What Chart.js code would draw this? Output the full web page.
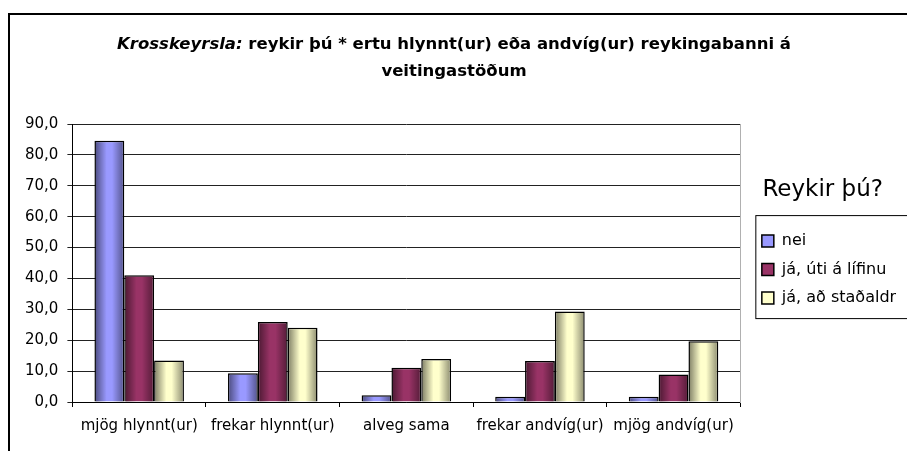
<!DOCTYPE html>
<html>
<head>
<meta charset="utf-8">
<script src="https://cdn.jsdelivr.net/npm/chart.js@4"></script>
<style>
  html, body { margin: 0; padding: 0; background: #fff; overflow: hidden; }
  #wrap { width: 907px; height: 451px; overflow: hidden; }
</style>
</head>
<body>
<div id="wrap"><canvas id="graf" width="940" height="451"></canvas></div>
<script>
// gögn lesin af myndinni
const flokkar = ['mjög hlynnt(ur)', 'frekar hlynnt(ur)', 'alveg sama', 'frekar andvíg(ur)', 'mjög andvíg(ur)'];
const nei = [84.6, 9.3, 2.2, 1.7, 1.7];
const utiALifinu = [41.0, 25.9, 11.1, 13.3, 8.9];
const adStadaldri = [13.4, 24.0, 13.9, 29.3, 19.7];
const yTickLabels = ['0,0', '10,0', '20,0', '30,0', '40,0', '50,0', '60,0', '70,0', '80,0', '90,0'];

const titillSkaletrad = 'Krosskeyrsla:';
const titillLina1 = ' reykir þú * ertu hlynnt(ur) eða andvíg(ur) reykingabanni á';
const titillLina2 = 'veitingastöðum';

const leturFam = '"DejaVu Sans", sans-serif';

// titill, rammi og skygging á súlum
const teikning = {
    id: 'teikning',
    beforeDraw(chart) {
        const c = chart.ctx;
        c.save();
        c.strokeStyle = '#000';
        c.lineWidth = 2;
        c.strokeRect(9, 14, 1200, 1200);
        c.restore();
    },
    afterDatasetsDraw(chart) {
        const c = chart.ctx;
        chart.data.datasets.forEach((ds, i) => {
            chart.getDatasetMeta(i).data.forEach(bar => {
                const { x, y, base, width } = bar.getProps(['x', 'y', 'base', 'width'], true);
                const l = x - width / 2 + 1.5, r = x + width / 2 - 1.5;
                const g = c.createLinearGradient(l, 0, r, 0);
                g.addColorStop(0, 'rgba(0,0,0,0.45)');
                g.addColorStop(0.4, 'rgba(0,0,0,0)');
                g.addColorStop(0.6, 'rgba(0,0,0,0)');
                g.addColorStop(1, 'rgba(0,0,0,0.4)');
                c.save();
                c.fillStyle = g;
                c.fillRect(l, y + 1.5, r - l, base - y - 1.5);
                c.restore();
            });
        });
    },
    afterDraw(chart) {
        const c = chart.ctx;
        c.save();
        c.fillStyle = '#000';
        c.textBaseline = 'middle';
        const f1 = 'italic bold 16.5px ' + leturFam;
        const f2 = 'bold 16.5px ' + leturFam;
        c.font = f1;
        const w1 = c.measureText(titillSkaletrad).width;
        c.font = f2;
        const w2 = c.measureText(titillLina1).width;
        const mx = 454;
        let x0 = mx - (w1 + w2) / 2;
        c.textAlign = 'left';
        c.font = f1;
        c.fillText(titillSkaletrad, x0, 45);
        c.font = f2;
        c.fillText(titillLina1, x0 + w1, 45);
        c.textAlign = 'center';
        c.fillText(titillLina2, mx, 72);
        // rammi um skýringar
        const lg = chart.legend;
        if (lg && lg.legendHitBoxes.length) {
            const hb = lg.legendHitBoxes;
            const top = Math.min(...hb.map(h => h.top));
            const bot = Math.max(...hb.map(h => h.top + h.height));
            c.strokeStyle = '#000';
            c.lineWidth = 1;
            c.strokeRect(lg.left + 6.5, top - 17.5, 400, bot - top + 30);
        }
        c.restore();
    }
};

new Chart(document.getElementById('graf'), {
    type: 'bar',
    data: {
        labels: flokkar,
        datasets: [
            { label: 'nei', data: nei, backgroundColor: '#9999FF' },
            { label: 'já, úti á lífinu', data: utiALifinu, backgroundColor: '#993366' },
            { label: 'já, að staðaldri', data: adStadaldri, backgroundColor: '#FFFFCC' }
        ]
    },
    options: {
        responsive: false,
        animation: false,
        layout: { padding: { top: 124, left: 16, right: 44, bottom: 6 } },
        datasets: {
            bar: {
                borderColor: '#000',
                borderWidth: 1.5,
                categoryPercentage: 0.67,
                barPercentage: 1.0
            }
        },
        scales: {
            x: {
                grid: { drawOnChartArea: false, offset: true, tickLength: 5, color: '#000' },
                border: { color: '#000' },
                ticks: { color: '#000', padding: 10, maxRotation: 0, font: { family: leturFam, size: 15 } }
            },
            y: {
                min: 0,
                max: 90,
                grid: { color: '#222', tickLength: 5 },
                border: { color: '#000' },
                ticks: {
                    stepSize: 10,
                    color: '#000',
                    padding: 9,
                    font: { family: leturFam, size: 15 },
                    callback: (v, i) => yTickLabels[i]
                }
            },
            bil: {
                type: 'linear',
                position: 'right',
                display: true,
                grid: { display: false },
                ticks: { display: false },
                border: { display: true, color: '#b0b0b0' },
                afterFit: s => { s.width = 9; }
            }
        },
        plugins: {
            legend: {
                position: 'right',
                align: 'start',
                title: {
                    display: true,
                    text: 'Reykir þú?',
                    color: '#000',
                    font: { family: leturFam, size: 23 },
                    padding: { top: 55, bottom: 14 }
                },
                labels: {
                    color: '#000',
                    boxWidth: 12,
                    boxHeight: 12,
                    padding: 12.5,
                    font: { family: leturFam, size: 16 }
                }
            },
            tooltip: { enabled: false }
        }
    },
    plugins: [teikning]
});
</script>
</body>
</html>
